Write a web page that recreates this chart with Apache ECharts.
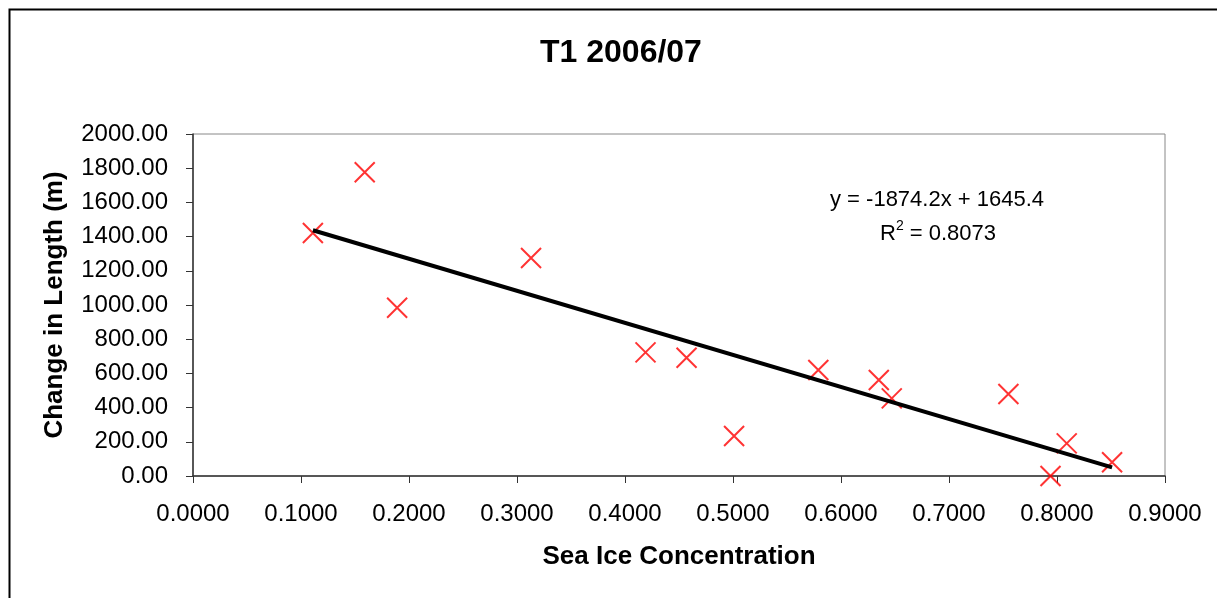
<!DOCTYPE html>
<html>
<head>
<meta charset="utf-8">
<script src="https://cdn.jsdelivr.net/npm/echarts@6/dist/echarts.min.js"></script>
<style>
  html, body { margin: 0; padding: 0; background: #fff; }
  #chart { width: 1217px; height: 598px; }
</style>
</head>
<body>
<div id="chart"></div>
<script>
// sea ice concentration vs change in length
const seaIce = [0.111, 0.159, 0.189, 0.313, 0.419, 0.457, 0.501, 0.579, 0.635, 0.647, 0.755, 0.809, 0.794, 0.851];
const lengthChange = [1421, 1776, 984, 1275, 723, 692, 234, 620, 561, 454, 480, 191, 0, 80];

// trendline from the printed equation
const slope = -1874.2;
const intercept = 1645.4;
const eqText = 'y = -1874.2x + 1645.4';
const r2Text = '0.8073';

const points = seaIce.map((x, i) => [x, lengthChange[i]]);
const xLo = Math.min(...seaIce), xHi = Math.max(...seaIce);
const trend = [[xLo, slope * xLo + intercept], [xHi, slope * xHi + intercept]];

const font = '"Liberation Sans", Arial, sans-serif';

const chart = echarts.init(document.getElementById('chart'));
chart.setOption({
    animation: false,
    title: {
        text: 'T1 2006/07',
        left: 535,
        top: 32,
        textStyle: { fontFamily: font, fontSize: 32, fontWeight: 'bold', color: '#000' }
    },
    grid: {
        left: 193, right: 52, top: 134, bottom: 122,
        show: true, borderColor: '#888', borderWidth: 1, backgroundColor: '#fff'
    },
    xAxis: {
        type: 'value', min: 0, max: 0.9, interval: 0.1,
        name: 'Sea Ice Concentration', nameLocation: 'middle', nameGap: 68,
        nameTextStyle: { fontFamily: font, fontSize: 26, fontWeight: 'bold', color: '#000' },
        axisLine: { lineStyle: { color: '#333', width: 1.5 } },
        axisTick: { show: true, length: 7, lineStyle: { color: '#333' } },
        axisLabel: { margin: 26, fontFamily: font, fontSize: 24, color: '#000', formatter: v => v.toFixed(4) },
        splitLine: { show: false }
    },
    yAxis: {
        type: 'value', min: 0, max: 2000, interval: 200,
        name: 'Change in Length (m)', nameLocation: 'middle', nameGap: 125, nameRotate: 90,
        nameTextStyle: { fontFamily: font, fontSize: 26, fontWeight: 'bold', color: '#000' },
        axisLine: { show: true, lineStyle: { color: '#333', width: 1.5 } },
        axisTick: { show: true, length: 7, lineStyle: { color: '#333' } },
        axisLabel: { margin: 25, fontFamily: font, fontSize: 24, color: '#000', formatter: v => v.toFixed(2) },
        splitLine: { show: false }
    },
    series: [
        {
            type: 'scatter',
            data: points,
            symbol: 'path://M0,0 L10,10 M10,0 L0,10',
            symbolSize: 20,
            itemStyle: { color: 'none', borderColor: '#ff0000', borderWidth: 2 },
            z: 3
        },
        {
            type: 'line',
            data: trend,
            symbol: 'none',
            lineStyle: { color: '#000', width: 4 },
            z: 4
        }
    ],
    graphic: [
        {
            type: 'rect',
            shape: { x: 9.5, y: 9.5, width: 1300, height: 700 },
            style: { fill: 'none', stroke: '#000', lineWidth: 2 },
            silent: true
        },
        {
            type: 'text',
            left: 830, top: 189,
            style: { text: eqText, font: '22px ' + font, fill: '#000' }
        },
        {
            type: 'text',
            left: 880, top: 219,
            style: {
                text: '{b|R}{s|2}{b| = ' + r2Text + '}',
                rich: {
                    b: { fontFamily: font, fontSize: 22, color: '#000', verticalAlign: 'bottom', lineHeight: 26 },
                    s: { fontFamily: font, fontSize: 14, color: '#000', verticalAlign: 'top', lineHeight: 26, padding: [0, 0, 8, 0] }
                }
            }
        }
    ]
});
</script>
</body>
</html>
